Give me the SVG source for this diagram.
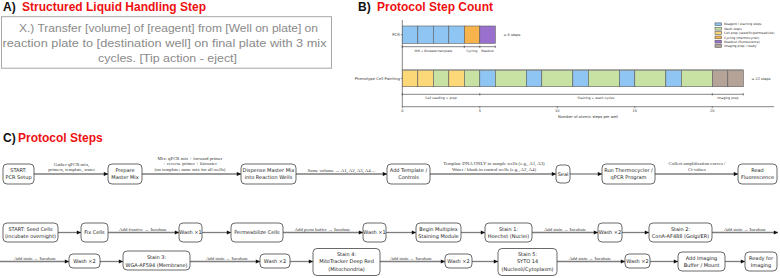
<svg xmlns="http://www.w3.org/2000/svg" width="780" height="278" viewBox="0 0 780 278">
<defs>
<style>
.ttl{font-family:"Liberation Sans",Arial,sans-serif;font-size:12px;font-weight:bold}
.red{fill:#ee1111}
.blk{fill:#111}
.atext{font-family:"Liberation Sans",Arial,sans-serif;font-size:10.8px;fill:#8a8a8a}
.ch{font-family:"DejaVu Sans",sans-serif;fill:#333}
.seg{stroke:#5a5a5a;stroke-width:0.6}
.ax{stroke:#333;stroke-width:0.6;fill:none}
.node rect{fill:#fff;stroke:#444;stroke-width:0.8}
.nt{font-family:"DejaVu Sans",sans-serif;font-size:5px;fill:#222;text-anchor:middle}
.el{font-family:"Liberation Serif",serif;font-size:4.8px;fill:#333;text-anchor:middle}
.edge{stroke:#7d7d7d;stroke-width:1.3;fill:none;marker-end:url(#arr)}
</style>
<marker id="arr" viewBox="0 0 10 10" refX="10" refY="5" markerUnits="userSpaceOnUse" markerWidth="5" markerHeight="4.2" orient="auto">
<path d="M0,0 L10,5 L0,10 z" fill="#111"/>
</marker>
<pattern id="dots" width="2" height="2" patternUnits="userSpaceOnUse">
<rect width="2" height="2" fill="#b9a89b"/>
<circle cx="1" cy="1" r="0.35" fill="#6e5e53"/>
</pattern>
</defs>
<rect width="780" height="278" fill="#fff"/>

<!-- Panel A -->
<g id="panelA">
<text x="3" y="10.5" class="ttl blk">A)</text>
<text x="22" y="10.5" class="ttl red">Structured Liquid Handling Step</text>
<rect x="1.5" y="16.7" width="330" height="51.5" fill="#fff" stroke="#a6a6a6" stroke-width="1"/>
<text x="19" y="32.3" class="atext" textLength="299" lengthAdjust="spacingAndGlyphs">X.) Transfer [volume] of [reagent] from [Well on plate] on</text>
<text x="2.5" y="46.7" class="atext" textLength="324" lengthAdjust="spacingAndGlyphs">reaction plate to [destination well] on final plate with 3 mix</text>
<text x="98" y="61.7" class="atext" textLength="139" lengthAdjust="spacingAndGlyphs">cycles. [Tip action - eject]</text>
</g>

<!-- Panel B -->
<g id="panelB">
<text x="358" y="10.5" class="ttl blk">B)</text>
<text x="377" y="10.5" class="ttl red">Protocol Step Count</text>
<!-- axes -->
<path class="ax" d="M402.3,20 V106.7 H774"/>
<path class="ax" d="M400.8,34.7 H402.3 M400.8,78.3 H402.3"/>
<path class="ax" d="M402.3,106.7 v1.5 M479.8,106.7 v1.5 M557.3,106.7 v1.5 M634.8,106.7 v1.5 M712.3,106.7 v1.5"/>
<g class="ch" font-size="3.5" text-anchor="middle">
<text x="402.3" y="112">0</text><text x="479.8" y="112">5</text><text x="557.3" y="112">10</text><text x="634.8" y="112">15</text><text x="712.3" y="112">20</text>
<text x="588" y="117.6" font-size="3.7">Number of atomic steps per well</text>
</g>
<g class="ch" font-size="3.8" text-anchor="end">
<text x="399.8" y="36">PCR</text>
<text x="399.8" y="79.6">Phenotype Cell Painting</text>
</g>
<!-- PCR bar -->
<g class="seg">
<rect x="402.3" y="26" width="15.5" height="17.3" fill="#8fc5f3"/>
<rect x="417.8" y="26" width="15.5" height="17.3" fill="#8fc5f3"/>
<rect x="433.3" y="26" width="15.5" height="17.3" fill="#8fc5f3"/>
<rect x="448.8" y="26" width="15.5" height="17.3" fill="#8fc5f3"/>
<rect x="464.3" y="26" width="15.5" height="17.3" fill="#f8b44c"/>
<rect x="479.8" y="26" width="15.5" height="17.3" fill="#9a70cf"/>
</g>
<text x="503.5" y="36" class="ch" font-size="3.5">= 6 steps</text>
<path class="ax" d="M402.3,46.7 H495.3 M402.3,45.5 v2.4 M464.3,45.5 v2.4 M479.8,45.5 v2.4 M495.3,45.5 v2.4"/>
<g class="ch" font-size="3" text-anchor="middle">
<text x="433.3" y="51.8">MM + Biowater/template</text>
<text x="472" y="51.8">Cycling</text>
<text x="487.5" y="51.8">Readout</text>
</g>
<!-- Cell painting bar -->
<g class="seg">
<rect x="402.3" y="70" width="15.5" height="16.7" fill="#fdd878"/>
<rect x="417.8" y="70" width="15.5" height="16.7" fill="#fdd878"/>
<rect x="433.3" y="70" width="15.5" height="16.7" fill="#c8e2a4"/>
<rect x="448.8" y="70" width="15.5" height="16.7" fill="#fdd878"/>
<rect x="464.3" y="70" width="15.5" height="16.7" fill="#c8e2a4"/>
<rect x="479.8" y="70" width="15.5" height="16.7" fill="#8fc5f3"/>
<rect x="495.3" y="70" width="31" height="16.7" fill="#c8e2a4"/>
<rect x="526.3" y="70" width="15.5" height="16.7" fill="#8fc5f3"/>
<rect x="541.8" y="70" width="31" height="16.7" fill="#c8e2a4"/>
<rect x="572.8" y="70" width="15.5" height="16.7" fill="#8fc5f3"/>
<rect x="588.3" y="70" width="31" height="16.7" fill="#c8e2a4"/>
<rect x="619.3" y="70" width="15.5" height="16.7" fill="#8fc5f3"/>
<rect x="634.8" y="70" width="31" height="16.7" fill="#c8e2a4"/>
<rect x="665.8" y="70" width="15.5" height="16.7" fill="#8fc5f3"/>
<rect x="681.3" y="70" width="31" height="16.7" fill="#c8e2a4"/>
<rect x="712.3" y="70" width="15.5" height="16.7" fill="url(#dots)"/>
<rect x="727.8" y="70" width="15.5" height="16.7" fill="url(#dots)"/>
</g>
<path d="M402.3,70 H743.3" stroke="#888" stroke-width="1.2"/>
<text x="751.5" y="80" class="ch" font-size="3.5">= 22 steps</text>
<path class="ax" d="M402.3,94.3 H743.3 M402.3,93.1 v2.4 M479.8,93.1 v2.4 M712.3,93.1 v2.4 M743.3,93.1 v2.4"/>
<g class="ch" font-size="3.2" text-anchor="middle">
<text x="441" y="99.2">Cell seeding + prep</text>
<text x="596" y="99.2">Staining + wash cycles</text>
<text x="727.8" y="99.2">Imaging prep</text>
</g>
<!-- legend -->
<g class="ch" font-size="3.1">
<rect x="715" y="22.9" width="6.5" height="2.8" fill="#8fc5f3" class="seg"/><text x="724" y="25.4">Reagent / staining steps</text>
<rect x="715" y="27.3" width="6.5" height="2.8" fill="#c8e2a4" class="seg"/><text x="724" y="29.8">Wash steps</text>
<rect x="715" y="31.6" width="6.5" height="2.8" fill="#fdd878" class="seg"/><text x="724" y="34.1">Cell prep (seed/fix/permeabilize)</text>
<rect x="715" y="36" width="6.5" height="2.8" fill="#f8b44c" class="seg"/><text x="724" y="38.5">Cycling (thermocycler)</text>
<rect x="715" y="40.3" width="6.5" height="2.8" fill="#9a70cf" class="seg"/><text x="724" y="42.8">Readout (fluorescence)</text>
<rect x="715" y="44.6" width="6.5" height="2.8" fill="url(#dots)" class="seg"/><text x="724" y="47.1">Imaging prep / ready</text>
</g>
</g>

<!-- Panel C title -->
<text x="3" y="142" class="ttl blk">C)</text>
<text x="18" y="142" class="ttl red">Protocol Steps</text>

<!-- Connectors -->
<g id="connectors">
<path class="edge" d="M34,174 H108"/>
<path class="edge" d="M142,174 H241"/>
<path class="edge" d="M296,174 H387"/>
<path class="edge" d="M430,174 H556"/>
<path class="edge" d="M570,174 H602"/>
<path class="edge" d="M655,174 H738"/>

<path class="edge" d="M58,232.5 H81"/>
<path class="edge" d="M108,232.5 H179"/>
<path class="edge" d="M202,232.5 H231"/>
<path class="edge" d="M283,232.5 H363"/>
<path class="edge" d="M386,232.5 H416"/>
<path class="edge" d="M461,232.5 H485"/>
<path class="edge" d="M532,232.5 H598"/>
<path class="edge" d="M622,232.5 H649"/>
<path class="edge" d="M712,232.5 H778"/>

<path class="edge" d="M0,261.5 H69"/>
<path class="edge" d="M100,261.5 H123"/>
<path class="edge" d="M190,261.5 H260"/>
<path class="edge" d="M290,261.5 H313"/>
<path class="edge" d="M380,261.5 H445"/>
<path class="edge" d="M472,261.5 H498"/>
<path class="edge" d="M557,261.5 H625"/>
<path class="edge" d="M650,261.5 H678"/>
<path class="edge" d="M725,261.5 H745"/>

<text class="el" x="71.5" y="165.8">Gather qPCR mix,</text>
<text class="el" x="71.5" y="171.2">primers, template, water</text>
<text class="el" x="190" y="160">Mix: qPCR mix + forward primer</text>
<text class="el" x="190" y="165.4">+ reverse primer + biowater</text>
<text class="el" x="190" y="170.8">(no template; same mix for all wells)</text>
<text class="el" x="341.5" y="171.8">Same volume → A1, A2, A3, A4 ...</text>
<text class="el" x="494" y="165.4">Template DNA ONLY in sample wells (e.g., A1, A3)</text>
<text class="el" x="494" y="170.8">Water / blank in control wells (e.g., A2, A4)</text>
<text class="el" x="697" y="165.4">Collect amplification curves /</text>
<text class="el" x="697" y="170.8">Ct values</text>

<text class="el" x="143" y="230.5">Add fixative → Incubate</text>
<text class="el" x="322.5" y="230.5">Add perm buffer → Incubate</text>
<text class="el" x="565" y="230.5">Add stain → Incubate</text>
<text class="el" x="745" y="230.5">Add stain → Incubate</text>

<text class="el" x="35" y="259.5">Add stain → Incubate</text>
<text class="el" x="227" y="259.5">Add stain → Incubate</text>
<text class="el" x="411" y="259.5">Add stain → Incubate</text>
<text class="el" x="590" y="259.5">Add stain → Incubate</text>
</g>

<!-- Row 1 nodes -->
<g id="n_start_pcr" class="node"><rect x="3" y="164" width="31" height="20" rx="4"/><text class="nt" x="18.5" y="172.3">START:</text><text class="nt" x="18.5" y="179.3">PCR Setup</text></g>
<g id="n_prepare" class="node"><rect x="108" y="164" width="34" height="20" rx="4"/><text class="nt" x="125" y="172.3">Prepare</text><text class="nt" x="125" y="179.3">Master Mix</text></g>
<g id="n_dispense" class="node"><rect x="241" y="164" width="55" height="20" rx="4"/><text class="nt" x="268.5" y="172.3">Dispense Master Mix</text><text class="nt" x="268.5" y="179.3">into Reaction Wells</text></g>
<g id="n_template" class="node"><rect x="387" y="164" width="43" height="20" rx="4"/><text class="nt" x="408.5" y="172.3">Add Template /</text><text class="nt" x="408.5" y="179.3">Controls</text></g>
<g id="n_seal" class="node"><rect x="556" y="165" width="14" height="18" rx="4"/><text class="nt" x="563" y="175.8">Seal</text></g>
<g id="n_thermo" class="node"><rect x="602" y="164" width="53" height="20" rx="4"/><text class="nt" x="628.5" y="172.3">Run Thermocycler /</text><text class="nt" x="628.5" y="179.3">qPCR Program</text></g>
<g id="n_read" class="node"><rect x="738" y="164" width="39" height="20" rx="4"/><text class="nt" x="757.5" y="172.3">Read</text><text class="nt" x="757.5" y="179.3">Fluorescence</text></g>

<!-- Row 2 nodes -->
<g id="n_seed" class="node"><rect x="3" y="223" width="55" height="19" rx="4"/><text class="nt" x="30.5" y="230.8">START: Seed Cells</text><text class="nt" x="30.5" y="237.6">(incubate overnight)</text></g>
<g id="n_fix" class="node"><rect x="81" y="223" width="27" height="19" rx="4"/><text class="nt" x="94.5" y="234.3">Fix Cells</text></g>
<g id="n_wash1a" class="node"><rect x="179" y="223" width="23" height="19" rx="4"/><text class="nt" x="190.5" y="234.3">Wash ×1</text></g>
<g id="n_perm" class="node"><rect x="231" y="223" width="52" height="19" rx="4"/><text class="nt" x="257" y="234.3">Permeabilize Cells</text></g>
<g id="n_wash1b" class="node"><rect x="363" y="223" width="23" height="19" rx="4"/><text class="nt" x="374.5" y="234.3">Wash ×1</text></g>
<g id="n_begin" class="node"><rect x="416" y="223" width="45" height="19" rx="4"/><text class="nt" x="438.5" y="230.8">Begin Multiplex</text><text class="nt" x="438.5" y="237.6">Staining Module</text></g>
<g id="n_stain1" class="node"><rect x="485" y="223" width="47" height="19" rx="4"/><text class="nt" x="508.5" y="230.8">Stain 1:</text><text class="nt" x="508.5" y="237.6">Hoechst (Nuclei)</text></g>
<g id="n_wash2a" class="node"><rect x="598" y="223" width="24" height="19" rx="4"/><text class="nt" x="610" y="234.3">Wash ×2</text></g>
<g id="n_stain2" class="node"><rect x="649" y="223" width="63" height="19" rx="4"/><text class="nt" x="680.5" y="230.8">Stain 2:</text><text class="nt" x="680.5" y="237.6">ConA-AF488 (Golgi/ER)</text></g>

<!-- Row 3 nodes -->
<g id="n_wash2b" class="node"><rect x="69" y="254" width="31" height="14" rx="4"/><text class="nt" x="84.5" y="263.2">Wash ×2</text></g>
<g id="n_stain3" class="node"><rect x="123" y="251" width="67" height="19" rx="4"/><text class="nt" x="156.5" y="259.4">Stain 3:</text><text class="nt" x="156.5" y="266.6">WGA-AF594 (Membrane)</text></g>
<g id="n_wash2c" class="node"><rect x="260" y="254" width="30" height="14" rx="4"/><text class="nt" x="275" y="263.2">Wash ×2</text></g>
<g id="n_stain4" class="node"><rect x="313" y="248.5" width="67" height="27" rx="4"/><text class="nt" x="346.5" y="255.6">Stain 4:</text><text class="nt" x="346.5" y="263.4">MitoTracker Deep Red</text><text class="nt" x="346.5" y="271.2">(Mitochondria)</text></g>
<g id="n_wash2d" class="node"><rect x="445" y="254" width="27" height="14" rx="4"/><text class="nt" x="458.5" y="263.2">Wash ×2</text></g>
<g id="n_stain5" class="node"><rect x="498" y="248.5" width="59" height="27" rx="4"/><text class="nt" x="527.5" y="255.6">Stain 5:</text><text class="nt" x="527.5" y="263.4">SYTO 14</text><text class="nt" x="527.5" y="271.2">(Nucleoli/Cytoplasm)</text></g>
<g id="n_wash2e" class="node"><rect x="625" y="254" width="25" height="14" rx="4"/><text class="nt" x="637.5" y="263.2">Wash ×2</text></g>
<g id="n_buffer" class="node"><rect x="678" y="252" width="47" height="19" rx="4"/><text class="nt" x="701.5" y="259.9">Add Imaging</text><text class="nt" x="701.5" y="266.7">Buffer / Mount</text></g>
<g id="n_ready" class="node"><rect x="745" y="252" width="32" height="19" rx="4"/><text class="nt" x="761" y="259.9">Ready for</text><text class="nt" x="761" y="266.7">Imaging</text></g>
</svg>
